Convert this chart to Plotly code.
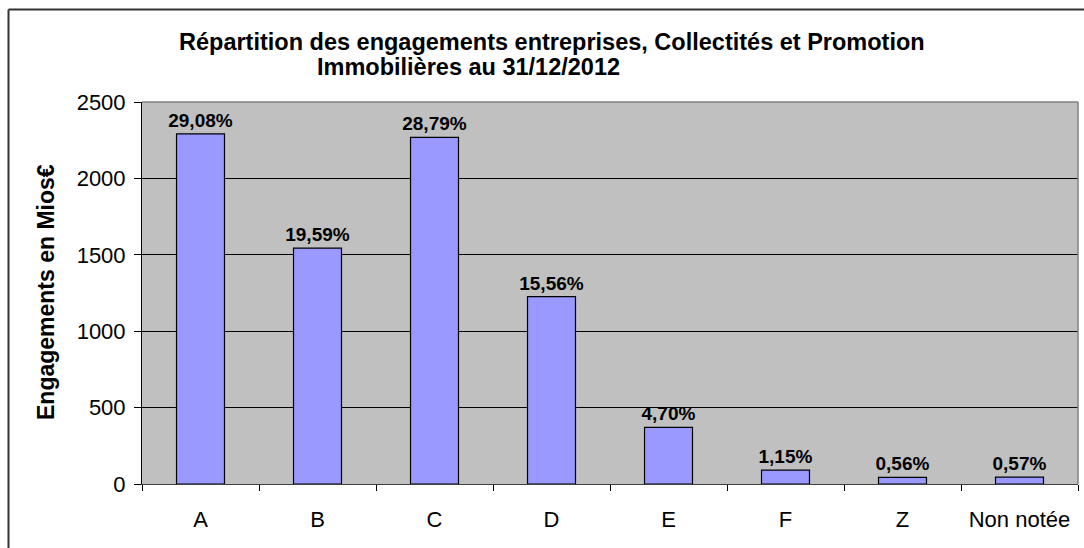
import plotly.graph_objects as go

categories = ["A", "B", "C", "D", "E", "F", "Z", "Non notée"]
engagements = [2292, 1544, 2269, 1226, 370, 91, 44, 45]
pct_labels = ["29,08%", "19,59%", "28,79%", "15,56%", "4,70%", "1,15%", "0,56%", "0,57%"]
y_ticks = [0, 500, 1000, 1500, 2000, 2500]

W, H = 1084, 548
L, R, T, B = 142, 1078, 102, 484
pw, ph = R - L, B - T

def px(x):
    return (x - L) / pw

def py(y):
    return (B - y) / ph

FONT = "Arial, Liberation Sans, sans-serif"

fig = go.Figure()
fig.add_trace(go.Bar(
    x=categories, y=engagements,
    marker=dict(color="#9999FF", line=dict(color="black", width=1.2)),
    text=pct_labels, textposition="outside", constraintext="none",
    textfont=dict(family=FONT, size=19, color="black", weight="bold"),
    cliponaxis=False, width=0.41, hoverinfo="skip",
))

fig.update_layout(
    width=W, height=H,
    margin=dict(l=L, r=W - R, t=T, b=H - B),
    paper_bgcolor="white", plot_bgcolor="#C0C0C0",
    showlegend=False,
    font=dict(family=FONT, color="black"),
    xaxis=dict(
        type="category", tickson="boundaries", ticks="outside", ticklen=6,
        tickcolor="black", showline=True, linecolor="#404040", linewidth=1,
        showgrid=False, tickfont=dict(size=22, family=FONT, color="black"),
        ticklabelstandoff=16,
    ),
    yaxis=dict(
        range=[0, 2500], tickvals=y_ticks, ticks="outside", ticklen=7,
        tickcolor="black", showline=True, linecolor="black", linewidth=1,
        showgrid=True, gridcolor="black", gridwidth=1, zeroline=False,
        tickfont=dict(size=22, family=FONT, color="black"),
        ticklabelstandoff=4,
    ),
    shapes=[
        dict(type="line", xref="paper", yref="paper", x0=0, x1=1, y0=1, y1=1,
             line=dict(color="#808080", width=1.5)),
        dict(type="line", xref="paper", yref="paper", x0=1, x1=1, y0=0, y1=1,
             line=dict(color="#808080", width=1.5)),
        dict(type="line", xref="paper", yref="paper", x0=px(8.5), x1=px(1100),
             y0=py(9.5), y1=py(9.5), line=dict(color="#333333", width=2)),
        dict(type="line", xref="paper", yref="paper", x0=px(8.5), x1=px(8.5),
             y0=py(9.5), y1=py(600), line=dict(color="#333333", width=2)),
    ],
    annotations=[
        dict(text="<b>Répartition des engagements entreprises, Collectités et Promotion</b>",
             xref="paper", yref="paper", x=px(552), y=py(42), xanchor="center",
             yanchor="middle", showarrow=False, font=dict(size=23.5, family=FONT)),
        dict(text="<b>Immobilières au 31/12/2012</b>",
             xref="paper", yref="paper", x=px(468), y=py(67), xanchor="center",
             yanchor="middle", showarrow=False, font=dict(size=23.5, family=FONT)),
        dict(text="<b>Engagements en Mios€</b>",
             xref="paper", yref="paper", x=px(46), y=py(292), xanchor="center",
             yanchor="middle", showarrow=False, textangle=-90,
             font=dict(size=23, family=FONT)),
    ],
)

fig.write_html(
    "out.html",
    config={"displayModeBar": False, "staticPlot": True},
    post_script="document.body.style.margin='0';document.body.style.overflow='hidden';",
)
